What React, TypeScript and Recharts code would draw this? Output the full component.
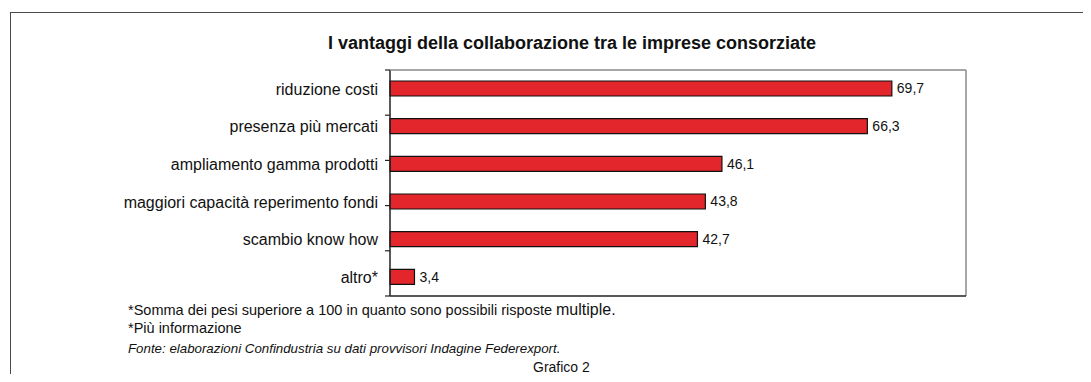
import { BarChart, Bar, XAxis, YAxis, LabelList } from 'recharts'

const categories = [
  'riduzione costi',
  'presenza più mercati',
  'ampliamento gamma prodotti',
  'maggiori capacità reperimento fondi',
  'scambio know how',
  'altro*',
]
const values = [69.7, 66.3, 46.1, 43.8, 42.7, 3.4]
const bandTicks = [0, 1, 2, 3, 4, 5, 6]

const FONT = '"Liberation Sans", Arial, sans-serif'

const chartData = categories.map((name, i) => ({ name, value: values[i] }))

const formatComma = (v: number) => v.toFixed(1).replace('.', ',')

export default function App() {
  return (
    <div
      style={{
        position: 'relative',
        width: 1091,
        height: 382,
        margin: -8,
        overflow: 'hidden',
        background: '#fff',
        fontFamily: FONT,
        color: '#111',
      }}
    >
      {/* outer frame, runs past the right and bottom edges */}
      <div
        style={{
          position: 'absolute',
          left: 10,
          top: 12,
          width: 1200,
          height: 500,
          border: '1.5px solid #4a4a4a',
        }}
      />

      <div
        style={{
          position: 'absolute',
          left: 252,
          width: 640,
          top: 33,
          textAlign: 'center',
          fontSize: 18,
          fontWeight: 'bold',
        }}
      >
        I vantaggi della collaborazione tra le imprese consorziate
      </div>

      <div style={{ position: 'absolute', left: 0, top: 0 }}>
        <BarChart
          width={1000}
          height={310}
          data={chartData}
          layout="vertical"
          margin={{ top: 69, right: 33, bottom: 13, left: 0 }}
        >
          <YAxis
            yAxisId="cat"
            type="category"
            dataKey="name"
            width={390}
            axisLine={false}
            tickLine={false}
            tickSize={6}
            tickMargin={6}
            interval={0}
            tick={{ fontSize: 16, fill: '#111', fontFamily: FONT }}
          />
          {/* left axis line with ticks between the bands */}
          <YAxis
            yAxisId="grid"
            type="number"
            mirror
            domain={[0, 6]}
            ticks={bandTicks}
            interval={0}
            width={1}
            tick={() => <g />}
            tickSize={-5}
            tickLine={{ stroke: '#222', strokeWidth: 1.2 }}
            axisLine={{ stroke: '#222', strokeWidth: 1.5 }}
          />
          <YAxis
            yAxisId="right"
            orientation="right"
            type="number"
            domain={[0, 1]}
            width={1}
            tick={false}
            tickLine={false}
            axisLine={{ stroke: '#8a8a8a', strokeWidth: 1.5 }}
          />
          <XAxis
            type="number"
            domain={[0, 80]}
            height={1}
            tick={false}
            tickLine={false}
            axisLine={{ stroke: '#222', strokeWidth: 1.5 }}
          />
          <XAxis
            xAxisId="top"
            orientation="top"
            type="number"
            domain={[0, 80]}
            height={1}
            tick={false}
            tickLine={false}
            axisLine={{ stroke: '#8a8a8a', strokeWidth: 1.5 }}
          />
          <Bar
            yAxisId="cat"
            dataKey="value"
            fill="#e3262b"
            stroke="#111"
            strokeWidth={1.2}
            barSize={15}
            isAnimationActive={false}
          >
            <LabelList
              dataKey="value"
              position="right"
              offset={5}
              formatter={(v: any) => formatComma(Number(v))}
              style={{ fontSize: 14, fill: '#111', fontFamily: FONT }}
            />
          </Bar>
        </BarChart>
      </div>

      {/* Notes */}
      <div style={{ position: 'absolute', left: 128, top: 301, fontSize: 14.5, lineHeight: '18px' }}>
        <div>
          *Somma dei pesi superiore a 100 in quanto sono possibili risposte{' '}
          <span style={{ fontSize: 16 }}>multiple.</span>
        </div>
        <div>*Più informazione</div>
        <div style={{ marginTop: 3, fontStyle: 'italic', fontSize: 13.3 }}>
          Fonte: elaborazioni Confindustria su dati provvisori Indagine Federexport.
        </div>
      </div>
      <div style={{ position: 'absolute', left: 533, top: 359, fontSize: 14 }}>Grafico 2</div>
    </div>
  )
}
